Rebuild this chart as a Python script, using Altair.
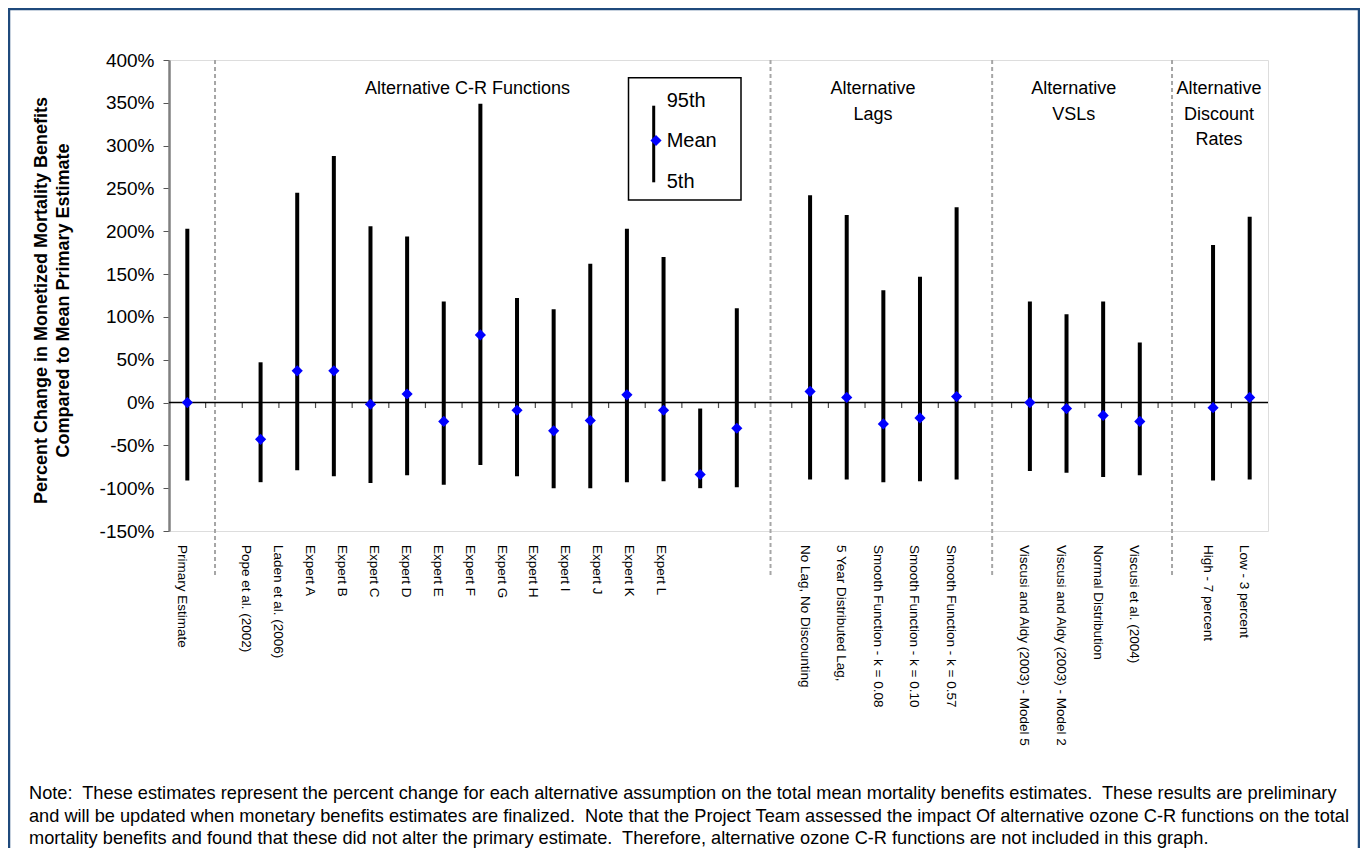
import altair as alt
import pandas as pd

# ---------------- data ----------------
primary_cats = ["Primary Estimate"]
cr_cats = ["Pope et al. (2002)", "Laden et al. (2006)", "Expert A", "Expert B", "Expert C",
           "Expert D", "Expert E", "Expert F", "Expert G", "Expert H", "Expert I",
           "Expert J", "Expert K", "Expert L"]
lag_cats = ["No Lag, No Discounting", "5 Year Distributed Lag,", "Smooth Function - k = 0.08",
            "Smooth Function - k = 0.10", "Smooth Function - k = 0.57"]
vsl_cats = ["Viscusi and Aldy (2003) - Model 5", "Viscusi and Aldy (2003) - Model 2",
            "Normal Distribution", "Viscusi et al. (2004)"]
disc_cats = ["High - 7 percent", "Low - 3 percent"]

mean_vals = [0, -43, 37, 37, -2, 10, -22, 79, -9, -33, -21, 9, -9, -84, -30,
             13, 6, -25, -18, 7, 0, -7, -15, -22, -6, 6]
p5_vals = [-91, -93, -79, -86, -94, -85, -96, -73, -86, -100, -100, -93, -92, -100, -99,
           -90, -90, -93, -92, -90, -80, -82, -87, -85, -91, -90]
p95_vals = [203, 47, 245, 288, 206, 194, 118, 349, 122, 109, 162, 203, 170, -7, 110,
            242, 219, 131, 147, 228, 118, 103, 118, 70, 184, 217]

group_titles = ["Alternative C-R Functions", "Alternative\nLags", "Alternative\nVSLs",
                "Alternative\nDiscount\nRates"]
group_title_x = [8.15, 19.22, 24.7, 28.66]      # in category-slot units
divider_x = [1.256, 16.42, 22.47, 27.38]         # in category-slot units

y_ticks = list(range(-150, 401, 50))

NB = "\u00a0"
note_text = ("Note:" + NB + " These estimates represent the percent change for each alternative assumption on the total mean mortality benefits estimates." + NB + " These results are preliminary\n"
             "and will be updated when monetary benefits estimates are finalized." + NB + " Note that the Project Team assessed the impact Of alternative ozone C-R functions on the total\n"
             "mortality benefits and found that these did not alter the primary estimate." + NB + " Therefore, alternative ozone C-R functions are not included in this graph.")

# ---------------- table ----------------
groups = [primary_cats, cr_cats, lag_cats, vsl_cats, disc_cats]
rows = []
slot = 0
k = 0
for gi, cats in enumerate(groups):
    for j, c in enumerate(cats):
        if gi == 1:
            lx = 2.11 + 0.871 * j
        else:
            lx = slot + 0.35
        rows.append({"cat": c, "xpos": slot + 0.5, "labx": lx,
                     "mean": mean_vals[k], "p5": p5_vals[k], "p95": p95_vals[k]})
        slot += 1
        k += 1
    slot += 1
n_slots = slot - 1
df = pd.DataFrame(rows)

FONT = "Liberation Sans"
W, H = 1099, 471

xs = alt.Scale(domain=[0, n_slots], nice=False, zero=False)
ys = alt.Scale(domain=[-150, 400], nice=False, zero=False)

base = alt.Chart(df)

bars = base.mark_rule(color="black", strokeWidth=4).encode(
    x=alt.X("xpos:Q", scale=xs, axis=None),
    y=alt.Y("p5:Q", scale=ys,
            title=["Percent Change in Monetized Mortality Benefits", "Compared to Mean Primary Estimate"],
            axis=alt.Axis(values=y_ticks, labelExpr="datum.value + '%'", grid=False,
                          domainColor="#808080", domainWidth=2.5, tickColor="#555555",
                          tickSize=6, tickWidth=1, labelFontSize=19, labelFont=FONT,
                          labelColor="black", labelPadding=9,
                          titleFont=FONT, titleFontSize=18, titleFontWeight="bold",
                          titleColor="black", titleLineHeight=22, titleAngle=-90,
                          titleBaseline="middle", titleAlign="center",
                          titleX=-128, titleY=240)),
    y2="p95:Q",
)

pts = base.mark_point(shape="diamond", filled=True, size=125, color="#0000FF", opacity=1).encode(
    x=alt.X("xpos:Q", scale=xs, axis=None),
    y=alt.Y("mean:Q", scale=ys),
)

labels = base.mark_text(angle=90, align="left", baseline="middle", fontSize=13.5,
                        font=FONT, color="black").encode(
    x=alt.X("labx:Q", scale=xs, axis=None),
    y=alt.value(H + 14),
    text="cat:N",
)

zero_df = pd.DataFrame({"z": [0]})
zero_line = alt.Chart(zero_df).mark_rule(color="black", strokeWidth=1.5).encode(
    y=alt.Y("z:Q", scale=ys),
    x=alt.value(0), x2=alt.value(W),
)

tick_df = pd.DataFrame({"b": list(range(1, n_slots)), "z": 0})
ticks = alt.Chart(tick_df).mark_tick(orient="vertical", size=5, thickness=1.2, yOffset=3,
                                     color="black").encode(
    x=alt.X("b:Q", scale=xs, axis=None),
    y=alt.Y("z:Q", scale=ys),
)

div_df = pd.DataFrame({"d": divider_x})
dividers = alt.Chart(div_df).mark_rule(color="#a6a6a6", strokeWidth=2, strokeDash=[4, 3]).encode(
    x=alt.X("d:Q", scale=xs, axis=None),
    y=alt.value(0), y2=alt.value(515),
)

hdr_df = pd.DataFrame({"t": group_titles, "hx": group_title_x, "hy": 360})
headers = alt.Chart(hdr_df).mark_text(lineBreak="\n", lineHeight=25.3, fontSize=18, font=FONT,
                                      align="center", baseline="alphabetic", color="black").encode(
    x=alt.X("hx:Q", scale=xs, axis=None),
    y=alt.Y("hy:Q", scale=ys),
    text="t:N",
)

one = pd.DataFrame({"a": [0]})
leg_box = alt.Chart(one).mark_rect(fill="white", stroke="black", strokeWidth=1.5).encode(
    x=alt.value(459.5), x2=alt.value(572), y=alt.value(17.7), y2=alt.value(140))
leg_rule = alt.Chart(one).mark_rule(color="black", strokeWidth=3).encode(
    x=alt.value(484.7), y=alt.value(45.7), y2=alt.value(122.3))
leg_pt = alt.Chart(one).mark_point(shape="diamond", filled=True, size=125, color="#0000FF",
                                   opacity=1).encode(x=alt.value(487), y=alt.value(80.5))
leg_txt = alt.Chart(one).mark_text(text="95th\nMean\n5th", lineBreak="\n", lineHeight=40.7,
                                   fontSize=20, font=FONT, align="left", baseline="middle",
                                   color="black").encode(x=alt.value(497.7), y=alt.value(40.7))

note = alt.Chart(one).mark_text(text=note_text, lineBreak="\n", lineHeight=22.3, fontSize=18.2,
                                font=FONT, align="left", baseline="alphabetic",
                                color="black").encode(x=alt.value(-140), y=alt.value(739.3))

border = alt.Chart(one).mark_rect(fillOpacity=0, stroke="#1f4a7c", strokeWidth=2.5).encode(
    x=alt.value(-160), x2=alt.value(1190), y=alt.value(-51), y2=alt.value(820))

chart = alt.layer(
    bars, border, dividers, zero_line, ticks, pts, labels, headers,
    leg_box, leg_rule, leg_pt, leg_txt, note,
).properties(
    width=W, height=H,
    autosize=alt.AutoSizeParams(type="none"),
    padding={"left": 161, "top": 52, "right": 92, "bottom": 317},
).configure_view(
    stroke="#808080", strokeWidth=2.5
).configure(background="white")

chart.save("out.html", embed_options={"renderer": "svg", "actions": False})
